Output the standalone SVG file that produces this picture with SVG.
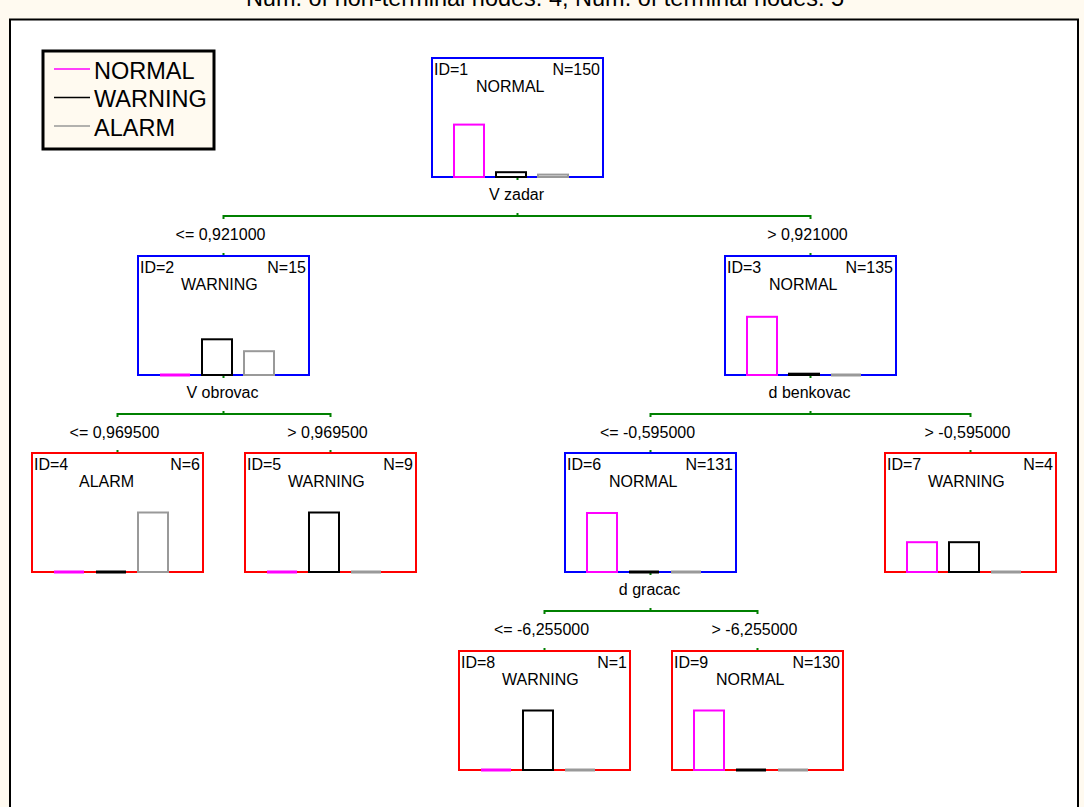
<svg xmlns="http://www.w3.org/2000/svg" width="1084" height="807" viewBox="0 0 1084 807">
<style>
text{font-family:"Liberation Sans",Arial,sans-serif;fill:#000}
.t{font-size:16px}
.lg{font-size:23.5px}
.nt{fill:#fff;stroke:#0000ff;stroke-width:2}
.tm{fill:#fff;stroke:#ff0000;stroke-width:2}
.b{fill:none;stroke-width:2}
.n{stroke:#ff00ff}
.w{stroke:#000}
.a{stroke:#999}
.z{stroke-width:3}
.c{fill:none;stroke:#008000;stroke-width:2}
.m{text-anchor:middle}
.e{text-anchor:end}
</style>
<rect width="1084" height="807" fill="#fffaf0"/>
<text x="545" y="6" class="m" style="font-size:23.5px">Num. of non-terminal nodes: 4, Num. of terminal nodes: 5</text>
<rect x="10" y="19.5" width="1068" height="800" fill="#fff" stroke="#000" stroke-width="2"/>
<g id="legend">
<rect x="43" y="51" width="171" height="98" fill="#fffaf0" stroke="#000" stroke-width="3"/>
<line x1="54" y1="69" x2="90" y2="69" stroke="#ff00ff" stroke-width="1.5"/>
<line x1="54" y1="97.5" x2="90" y2="97.5" stroke="#000" stroke-width="1.5"/>
<line x1="54" y1="126" x2="90" y2="126" stroke="#999" stroke-width="1.5"/>
<text x="94" y="78.5" class="lg">NORMAL</text>
<text x="94" y="107" class="lg">WARNING</text>
<text x="94" y="135.5" class="lg">ALARM</text>
</g>
<g id="connectors">
<path class="c" d="M517.5 177v3M223.5 219v-3h587v3M517.5 216v-3M223.5 253v3M810.5 253v3"/>
<path class="c" d="M223.5 375v3M117.5 417v-3h213v3M223.5 414v-3M117.5 450v3M330.5 450v3"/>
<path class="c" d="M810.5 375v3M650.5 417v-3h320v3M810.5 414v-3M650.5 450v3M970.5 450v3"/>
<path class="c" d="M650.5 572v3M544.5 614v-3h213v3M650.5 611v-3M544.5 648v3M757.5 648v3"/>
<text x="516.5" y="200" class="t m">V zadar</text>
<text x="220.5" y="240" class="t m">&lt;= 0,921000</text>
<text x="807.5" y="240" class="t m">&gt; 0,921000</text>
<text x="222.5" y="398" class="t m">V obrovac</text>
<text x="809.5" y="398" class="t m">d benkovac</text>
<text x="114.5" y="438" class="t m">&lt;= 0,969500</text>
<text x="327.5" y="438" class="t m">&gt; 0,969500</text>
<text x="647.5" y="438" class="t m">&lt;= -0,595000</text>
<text x="967.5" y="438" class="t m">&gt; -0,595000</text>
<text x="649.5" y="595" class="t m">d gracac</text>
<text x="541.5" y="635" class="t m">&lt;= -6,255000</text>
<text x="754.5" y="635" class="t m">&gt; -6,255000</text>
</g>
<g id="node1">
<rect class="nt" x="432" y="58" width="171" height="119"/>
<text x="434" y="75" class="t">ID=1</text><text x="600" y="75" class="t e">N=150</text>
<text x="476" y="92" class="t">NORMAL</text>
<rect class="b n" x="454" y="124.6" width="30" height="52.4"/>
<rect class="b w" x="496" y="172.2" width="30" height="4.8"/>
<rect class="b a" x="538" y="174.6" width="30" height="2.4"/>
</g>
<g id="node2">
<rect class="nt" x="138" y="256" width="171" height="119"/>
<text x="140" y="273" class="t">ID=2</text><text x="306" y="273" class="t e">N=15</text>
<text x="181" y="290" class="t">WARNING</text>
<line class="b n z" x1="160" y1="375" x2="190" y2="375"/>
<rect class="b w" x="202" y="339.3" width="30" height="35.7"/>
<rect class="b a" x="244" y="351.2" width="30" height="23.8"/>
</g>
<g id="node3">
<rect class="nt" x="725" y="256" width="171" height="119"/>
<text x="727" y="273" class="t">ID=3</text><text x="893" y="273" class="t e">N=135</text>
<text x="769" y="290" class="t">NORMAL</text>
<rect class="b n" x="747" y="316.8" width="30" height="58.2"/>
<rect class="b w" x="789" y="373.7" width="30" height="1.3"/>
<line class="b a z" x1="831" y1="375" x2="861" y2="375"/>
</g>
<g id="node4">
<rect class="tm" x="32" y="453" width="171" height="119"/>
<text x="34" y="470" class="t">ID=4</text><text x="200" y="470" class="t e">N=6</text>
<text x="79" y="487" class="t">ALARM</text>
<line class="b n z" x1="54" y1="572" x2="84" y2="572"/>
<line class="b w z" x1="96" y1="572" x2="126" y2="572"/>
<rect class="b a" x="138" y="512.5" width="30" height="59.5"/>
</g>
<g id="node5">
<rect class="tm" x="245" y="453" width="171" height="119"/>
<text x="247" y="470" class="t">ID=5</text><text x="413" y="470" class="t e">N=9</text>
<text x="288" y="487" class="t">WARNING</text>
<line class="b n z" x1="267" y1="572" x2="297" y2="572"/>
<rect class="b w" x="309" y="512.5" width="30" height="59.5"/>
<line class="b a z" x1="351" y1="572" x2="381" y2="572"/>
</g>
<g id="node6">
<rect class="nt" x="565" y="453" width="171" height="119"/>
<text x="567" y="470" class="t">ID=6</text><text x="733" y="470" class="t e">N=131</text>
<text x="609" y="487" class="t">NORMAL</text>
<rect class="b n" x="587" y="513" width="30" height="59"/>
<line class="b w z" x1="629" y1="572" x2="659" y2="572"/>
<line class="b a z" x1="671" y1="572" x2="701" y2="572"/>
</g>
<g id="node7">
<rect class="tm" x="885" y="453" width="171" height="119"/>
<text x="887" y="470" class="t">ID=7</text><text x="1053" y="470" class="t e">N=4</text>
<text x="928" y="487" class="t">WARNING</text>
<rect class="b n" x="907" y="542.2" width="30" height="29.8"/>
<rect class="b w" x="949" y="542.2" width="30" height="29.8"/>
<line class="b a z" x1="991" y1="572" x2="1021" y2="572"/>
</g>
<g id="node8">
<rect class="tm" x="459" y="651" width="171" height="119"/>
<text x="461" y="668" class="t">ID=8</text><text x="627" y="668" class="t e">N=1</text>
<text x="502" y="685" class="t">WARNING</text>
<line class="b n z" x1="481" y1="770" x2="511" y2="770"/>
<rect class="b w" x="523" y="710.5" width="30" height="59.5"/>
<line class="b a z" x1="565" y1="770" x2="595" y2="770"/>
</g>
<g id="node9">
<rect class="tm" x="672" y="651" width="171" height="119"/>
<text x="674" y="668" class="t">ID=9</text><text x="840" y="668" class="t e">N=130</text>
<text x="716" y="685" class="t">NORMAL</text>
<rect class="b n" x="694" y="710.5" width="30" height="59.5"/>
<line class="b w z" x1="736" y1="770" x2="766" y2="770"/>
<line class="b a z" x1="778" y1="770" x2="808" y2="770"/>
</g>
</svg>
